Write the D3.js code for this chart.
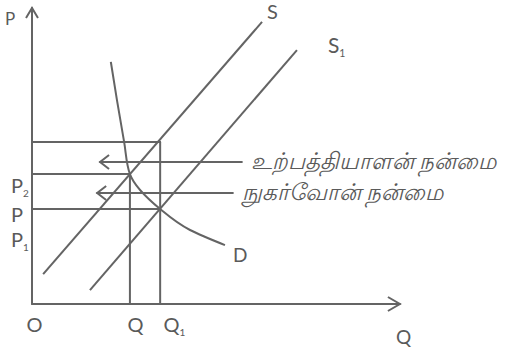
<!DOCTYPE html>
<html>
<head>
<meta charset="utf-8">
<script src="https://cdn.jsdelivr.net/npm/d3@7"></script>
<style>
  body { margin: 0; background: #fff; }
</style>
</head>
<body>
<div id="container"></div>
<script>
// quantities and prices in chart units (0..10 on each axis)
const qLevels = { Q: 2.72, Q1: 3.56 };
const pLevels = { top: 5.47, P2: 4.39, P: 3.21 };

const supplyS  = [[0.31, 1.01], [6.39, 9.53]];
const supplyS1 = [[1.61, 0.47], [7.36, 8.58]];
const demandD  = [[2.19, 8.18], [2.36, 6.89], [2.56, 5.47], [2.72, 4.39],
                  [3.56, 3.21], [4.39, 2.50], [5.36, 1.99]];

// welfare arrows: [from x, to x, y]
const arrowsData = [
  { x0: 5.83, x1: 1.89, y: 4.80, label: "உற்பத்தியாளன் நன்மை" },
  { x0: 5.58, x1: 1.81, y: 3.75, label: "நுகர்வோன் நன்மை" }
];

const priceLabels = [
  { name: "P", sub: "2", v: 3.98 },
  { name: "P", sub: "",  v: 3.0 },
  { name: "P", sub: "1", v: 2.16 }
];
const qtyLabels = [
  { name: "O", sub: "",  u: -0.15 },
  { name: "Q", sub: "",  u: 2.65 },
  { name: "Q", sub: "1", u: 3.65 }
];

const width = 520, height = 352;
const ink = "#646464", textInk = "#5a5a5a";

const svg = d3.select("#container").append("svg")
  .attr("width", width).attr("height", height)
  .style("font-family", "Lato, 'Open Sans', sans-serif");

const x = d3.scaleLinear().domain([0, 10]).range([32, 392]);
const y = d3.scaleLinear().domain([0, 10]).range([304, 8]);

const line = d3.line().x(d => x(d[0])).y(d => y(d[1]));

function seg(x1, y1, x2, y2) {
  svg.append("line")
    .attr("x1", x1).attr("y1", y1).attr("x2", x2).attr("y2", y2)
    .attr("stroke", ink).attr("stroke-width", 2).attr("stroke-linecap", "round");
}

// axes
seg(x(0), y(0), x(0), y(10));
seg(x(0), y(0), x(10.22), y(0));
// axis arrowheads
svg.append("path")
  .attr("d", `M${x(0) - 6},${y(10) + 10}L${x(0)},${y(10)}L${x(0) + 6},${y(10) + 10}`)
  .attr("fill", "none").attr("stroke", ink).attr("stroke-width", 2);
svg.append("path")
  .attr("d", `M${x(10.22) - 12},${y(0) - 7}L${x(10.22)},${y(0)}L${x(10.22) - 12},${y(0) + 7}`)
  .attr("fill", "none").attr("stroke", ink).attr("stroke-width", 2);

// price/quantity guide lines
seg(x(0), y(pLevels.top), x(qLevels.Q1), y(pLevels.top));
seg(x(0), y(pLevels.P2), x(qLevels.Q), y(pLevels.P2));
seg(x(0), y(pLevels.P), x(qLevels.Q1), y(pLevels.P));
seg(x(qLevels.Q), y(pLevels.P2), x(qLevels.Q), y(0));
seg(x(qLevels.Q1), y(pLevels.top), x(qLevels.Q1), y(0));

// supply and demand
[supplyS, supplyS1].forEach(s => {
  svg.append("path").datum(s).attr("d", line)
    .attr("fill", "none").attr("stroke", ink).attr("stroke-width", 2);
});
svg.append("path").datum(demandD)
  .attr("d", line.curve(d3.curveMonotoneY))
  .attr("fill", "none").attr("stroke", ink).attr("stroke-width", 2);

// arrows with labels
arrowsData.forEach(a => {
  seg(x(a.x0), y(a.y), x(a.x1), y(a.y));
  svg.append("path")
    .attr("d", `M${x(a.x1) + 9},${y(a.y) - 7}L${x(a.x1)},${y(a.y)}L${x(a.x1) + 9},${y(a.y) + 7}`)
    .attr("fill", "none").attr("stroke", ink).attr("stroke-width", 2);
  svg.append("text")
    .attr("x", x(a.x0) + 9).attr("y", y(a.y))
    .attr("dy", "0.3em")
    .attr("fill", textInk)
    .style("font-size", "23px")
    .style("font-style", "italic")
    .text(a.label);
});

function label(px, py, name, sub, size, anchor) {
  const t = svg.append("text")
    .attr("x", px).attr("y", py).attr("dy", "0.35em")
    .attr("text-anchor", anchor || "start")
    .attr("fill", textInk).style("font-size", size + "px");
  t.append("tspan").text(name);
  if (sub) t.append("tspan").attr("dy", "0.35em").style("font-size", (size * 0.5) + "px").text(sub);
}

priceLabels.forEach(p => label(11, y(p.v), p.name, p.sub, 20));
qtyLabels.forEach(q => label(x(q.u), 325, q.name, q.sub, 20));

label(5, 19, "P", "", 17);
label(396, 337, "Q", "", 19);
label(x(supplyS[1][0]) + 5, 12, "S", "", 20);
label(x(supplyS1[1][0]) + 31, 46, "S", "1", 21);
label(x(demandD[demandD.length - 1][0]) + 8, 255, "D", "", 19);
</script>
</body>
</html>
